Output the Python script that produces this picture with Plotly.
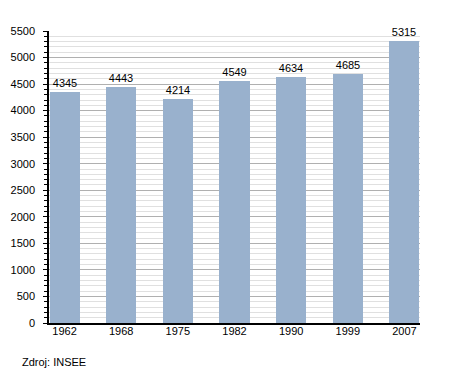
import plotly.graph_objects as go

years = ["1962", "1968", "1975", "1982", "1990", "1999", "2007"]
population = [4345, 4443, 4214, 4549, 4634, 4685, 5315]
y_ticks = [0, 500, 1000, 1500, 2000, 2500, 3000, 3500, 4000, 4500, 5000, 5500]

fig = go.Figure()
fig.add_trace(go.Bar(
    x=list(range(len(years))),
    y=population,
    width=0.53,
    marker=dict(color="#99b1cd", line=dict(width=0)),
    text=[str(v) for v in population],
    textposition="outside",
    textfont=dict(family="Liberation Sans, Arial, sans-serif", size=11, color="#000"),
    cliponaxis=False,
))

fig.update_layout(
    width=442, height=365,
    margin=dict(l=41, r=30, t=23, b=50, autoexpand=False),
    paper_bgcolor="white", plot_bgcolor="white",
    font=dict(family="Liberation Sans, Arial, sans-serif", size=11, color="#000"),
    showlegend=False,
    bargap=0,
    xaxis=dict(
        tickmode="array",
        tickvals=list(range(len(years))),
        ticktext=years,
        range=[-0.274, 6.274],
        showline=True, linecolor="#000", linewidth=1.5,
        ticks="", showgrid=False, zeroline=False,
        tickfont=dict(size=11),
        ticklabelstandoff=-3,
        automargin=False,
    ),
    yaxis=dict(
        range=[0, 5500],
        tickmode="array",
        tickvals=y_ticks,
        ticktext=[str(v) for v in y_ticks],
        showline=True, linecolor="#000", linewidth=1.5,
        ticks="outside", ticklen=4, tickcolor="#000", tickwidth=1,
        showgrid=True, gridcolor="#b0b0b0", gridwidth=1,
        zeroline=False,
        tickfont=dict(size=11),
        ticklabelstandoff=6,
        automargin=False,
        minor=dict(dtick=100, tick0=0, showgrid=True, gridcolor="#e0e0e0",
                   ticks="outside", ticklen=3, tickcolor="#000", gridwidth=1),
    ),
    annotations=[dict(
        text="Zdroj: INSEE", xref="paper", yref="paper",
        x=0, y=-39/292, xanchor="left", yanchor="middle",
        showarrow=False, font=dict(size=11, color="#000"),
        xshift=-29,
    )],
)

fig.write_html("out.html")
